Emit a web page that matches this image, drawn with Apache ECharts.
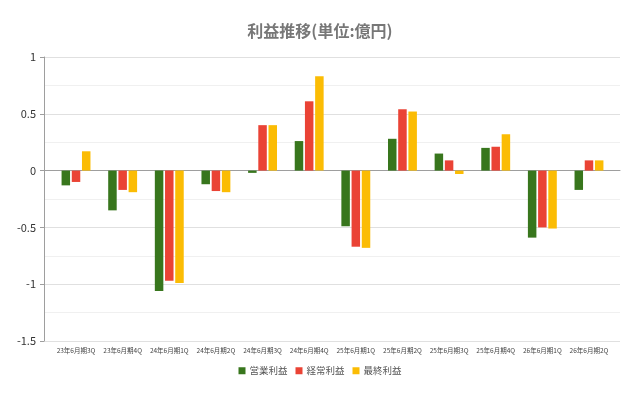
<!DOCTYPE html>
<html><head><meta charset="utf-8">
<script src="https://cdn.jsdelivr.net/npm/echarts@6/dist/echarts.min.js"></script>
<style>html,body{margin:0;padding:0;background:#fff}#c{width:640px;height:395px}</style>
</head><body><div id="c"></div>
<script>
var categories = ['23年6月期3Q','23年6月期4Q','24年6月期1Q','24年6月期2Q','24年6月期3Q','24年6月期4Q','25年6月期1Q','25年6月期2Q','25年6月期3Q','25年6月期4Q','26年6月期1Q','26年6月期2Q'];
var operating = [-0.13,-0.35,-1.06,-0.12,-0.02,0.26,-0.49,0.28,0.15,0.20,-0.59,-0.17];
var ordinary  = [-0.10,-0.17,-0.97,-0.18,0.40,0.61,-0.67,0.54,0.09,0.21,-0.50,0.09];
var net       = [0.17,-0.19,-0.99,-0.19,0.40,0.83,-0.68,0.52,-0.03,0.32,-0.51,0.09];
var seriesNames = ['営業利益','経常利益','最終利益'];
var colors = ['#38761d','#ea4335','#fbbc04'];

var font = '"Noto Sans CJK JP", "Noto Sans", sans-serif';
var chart = echarts.init(document.getElementById('c'));
chart.setOption({
  backgroundColor: '#fff',
  animation: false,
  textStyle: {fontFamily: font},
  title: {text: '利益推移(単位:億円)', left: 'center', top: 18,
    textStyle: {fontSize: 16, fontWeight: 'bold', color: '#777', fontFamily: font}},
  legend: {data: seriesNames, top: 361, left: 'center', icon: 'rect', itemWidth: 7, itemHeight: 7, itemGap: 8,
    textStyle: {fontSize: 9.5, color: '#555', fontFamily: font, padding: [0, 0, 0, -1]}},
  grid: [
    {left: 44, right: 20, top: 57, bottom: 54},
    {left: 52.7, right: 27.7, top: 57, bottom: 54}
  ],
  xAxis: [
    {gridIndex: 0, type: 'category', data: categories, axisLine: {show: true, onZero: true, lineStyle: {color: '#9e9e9e', width: 1}},
      axisTick: {show: false}, axisLabel: {show: false}, splitLine: {show: false}},
    {gridIndex: 1, type: 'category', data: categories, axisLine: {show: false, onZero: false}, axisTick: {show: false},
      axisLabel: {fontSize: 6.5, color: '#444', margin: 6, interval: 0, fontFamily: font}}
  ],
  yAxis: [
    {gridIndex: 0, type: 'value', min: -1.5, max: 1, interval: 0.5,
      axisLine: {show: true, lineStyle: {color: '#9e9e9e'}},
      axisTick: {show: true, length: 4, lineStyle: {color: '#9e9e9e'}},
      axisLabel: {fontSize: 11, color: '#333', margin: 8, fontFamily: font},
      splitLine: {show: true, lineStyle: {color: '#e0e0e0'}},
      minorTick: {show: false, splitNumber: 2},
      minorSplitLine: {show: true, lineStyle: {color: '#f0f0f0'}}},
    {gridIndex: 1, type: 'value', min: -1.5, max: 1, interval: 0.5, show: false, splitLine: {show: false}}
  ],
  series: [
    {name: seriesNames[0], type: 'bar', xAxisIndex: 1, yAxisIndex: 1, data: operating, itemStyle: {color: colors[0]}, barWidth: 8.5, barGap: '20%'},
    {name: seriesNames[1], type: 'bar', xAxisIndex: 1, yAxisIndex: 1, data: ordinary, itemStyle: {color: colors[1]}, barWidth: 8.5, barGap: '20%'},
    {name: seriesNames[2], type: 'bar', xAxisIndex: 1, yAxisIndex: 1, data: net, itemStyle: {color: colors[2]}, barWidth: 8.5, barGap: '20%'}
  ]
});
</script></body></html>
